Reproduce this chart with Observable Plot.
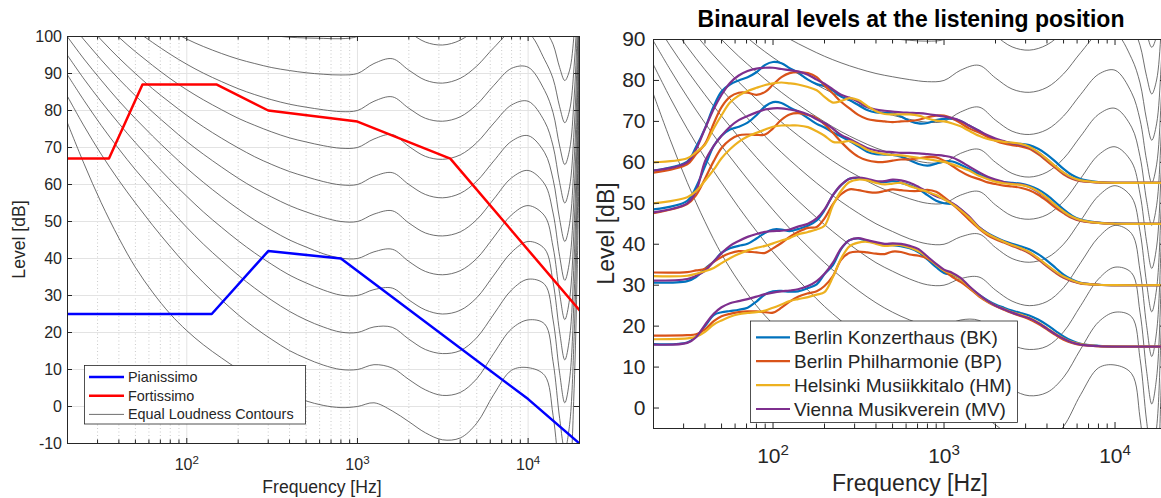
<!DOCTYPE html>
<html>
<head>
<meta charset="utf-8">
<script src="https://cdn.jsdelivr.net/npm/d3@7"></script>
<script src="https://cdn.jsdelivr.net/npm/@observablehq/plot@0.6"></script>
<style>
html, body { margin: 0; padding: 0; background: #fff; overflow: hidden; }
#wrap { position: relative; width: 1161px; height: 498px; overflow: hidden; background: #fff; }
#wrap > svg { position: absolute; top: 0; }
</style>
</head>
<body>
<div id="wrap"></div>
<script>
// ---------------- DATA ----------------
// Equal loudness contours, frequency grid in Hz
const isoFreq = [20,25,31.5,40,50,63,80,100,125,160,200,250,315,400,500,630,800,1000,1250,1600,2000,2500,3150,4000,5000,6300,8000,10000,12500,14000,15300,16400,17500,18600,19400,20000];
const phonLevels = [0,10,20,30,40,50,60,70,80,90,100];
const phon0   = [76.6,65.6,55.1,45.5,37.6,30.9,25.0,20.5,16.7,13.1,10.1,7.5,5.1,3.1,1.5,0.3,-0.3,0.0,1.0,-1.2,-4.1,-7.1,-9.0,-8.5,-4.5,3.3,9.8,10.5,8.4,-2.4,-18.6,-27.6,-20.4,4.8,37.2,73.2];
const phon10  = [83.8,75.8,68.2,61.1,55.0,49.0,43.2,38.1,33.5,28.8,24.8,21.3,18.1,15.1,13.0,11.2,10.0,10.0,11.3,10.4,7.3,4.5,3.0,3.8,7.5,14.4,21.0,23.4,22.3,12.1,-3.2,-11.7,-4.9,18.9,49.5,83.5];
const phon20  = [89.6,82.7,76.0,69.6,64.0,58.6,53.2,48.4,43.9,39.4,35.5,32.0,28.7,25.7,23.4,21.5,20.1,20.0,21.5,21.4,18.2,15.4,14.3,15.1,18.6,25.0,31.5,34.4,33.0,23.4,9.0,1.0,7.4,29.8,58.6,90.6];
const phon30  = [94.9,88.5,82.4,76.5,71.3,66.2,61.2,56.8,52.6,48.4,44.8,41.5,38.4,35.5,33.4,31.5,30.1,30.0,31.6,32.0,28.8,26.1,25.0,26.0,29.4,35.5,41.7,44.6,42.6,33.6,20.1,12.6,18.6,39.6,66.6,96.6];
const phon40  = [99.9,93.9,88.2,82.6,77.8,73.1,68.5,64.4,60.6,56.7,53.4,50.4,47.6,45.0,43.1,41.3,40.1,40.0,41.8,42.5,39.2,36.5,35.6,36.7,40.0,45.8,51.8,54.3,51.5,43.1,30.5,23.5,29.1,48.7,73.9,101.9];
const phon50  = [104.7,99.1,93.7,88.5,84.0,79.6,75.4,71.6,68.2,64.7,61.7,59.0,56.6,54.3,52.6,51.1,50.0,50.0,52.0,52.9,49.6,46.9,46.1,47.2,50.5,56.1,61.8,63.8,60.1,52.3,40.6,34.1,39.3,57.5,80.9,106.9];
const phon60  = [109.5,104.2,99.1,94.2,90.0,85.9,82.1,78.7,75.6,72.5,69.9,67.5,65.4,63.5,62.1,60.8,59.9,60.0,62.2,63.2,60.0,57.3,56.4,57.6,60.9,66.4,71.7,73.2,68.6,61.4,50.6,44.6,49.4,66.2,87.8,111.8];
const phon70  = [114.3,109.3,104.4,99.8,95.9,92.2,88.6,85.6,82.9,80.2,77.9,76.0,74.2,72.6,71.5,70.5,69.8,70.0,72.3,73.5,70.3,67.6,66.8,68.0,71.3,76.6,81.5,82.5,77.0,70.4,60.5,55.0,59.4,74.8,94.6,116.6];
const phon80  = [119.0,114.2,109.7,105.3,101.7,98.4,95.2,92.5,90.1,87.8,85.9,84.3,82.9,81.7,80.9,80.2,79.7,80.0,82.5,83.7,80.6,77.9,77.1,78.3,81.6,86.8,91.4,91.7,85.4,79.4,70.4,65.4,69.4,83.4,101.4,121.4];
const phon90  = [123.7,119.2,114.9,110.9,107.5,104.5,101.7,99.3,97.3,95.4,93.9,92.7,91.6,90.8,90.2,89.8,89.6,90.0,92.7,94.0,90.9,88.2,87.4,88.7,92.0,97.0,101.3,101.0,93.7,88.6,81.0,76.7,80.1,92.0,107.3,124.3];
const phon100 = [128.4,124.2,120.1,116.4,113.4,110.6,108.2,106.2,104.5,103.0,101.9,101.0,100.3,99.8,99.6,99.5,99.4,100.0,102.8,104.3,101.2,98.5,97.7,99.0,102.3,107.2,111.1,110.2,102.1,97.9,91.6,88.1,90.9,100.7,113.3,127.3];
const phonRows = [phon0,phon10,phon20,phon30,phon40,phon50,phon60,phon70,phon80,phon90,phon100];

// Left panel: dynamics
const ppFreq = [20,140,300,800,10000,20000];
const ppLevel = [25,25,42,40,2,-10];
const ffFreq = [20,35,55,150,300,1000,3500,20000];
const ffLevel = [67,67,87,87,80,77,67,26];

// Right panel: binaural levels per hall (4 dynamic levels each)
const hallFreq = [20,31.5,35.5,40,45,50,56,63,71,80,90,100,112,125,140,160,180,200,224,250,280,315,355,400,450,500,560,630,710,800,900,1000,1120,1250,1400,1600,1800,2000,2240,2500,2800,3150,3550,4000,4500,5000,5600,6300,8000,10000,20000];
const levelNames = ["ff","f","p","pp"];
const bkA = [58.0,60.2,63.8,68.3,73.7,77.3,79.0,80.0,80.8,82.0,83.8,84.5,84.2,83.0,81.9,80.2,79.1,78.6,77.5,76.1,75.2,74.0,72.8,72.2,72.1,72.0,71.2,70.1,69.5,69.6,70.3,70.6,70.6,70.1,69.0,67.7,66.3,65.5,65.0,64.7,64.5,64.2,63.3,61.9,60.1,58.4,56.9,55.9,55.2,55.0,55.0];
const bkB = [48.5,50.6,54.0,59.0,64.0,66.5,68.0,68.7,69.7,71.5,73.7,74.7,74.5,73.4,72.4,70.8,69.4,68.5,67.3,66.3,65.2,63.9,62.6,62.0,61.9,61.8,61.4,60.5,59.6,59.2,59.7,60.2,60.2,59.4,58.4,57.1,56.2,55.6,55.2,55.0,54.8,54.3,53.4,52.0,50.2,48.5,47.0,46.0,45.3,45.1,45.0];
const bkC = [30.6,31.0,32.0,34.0,35.8,37.9,39.0,39.6,40.1,41.4,42.8,43.6,43.6,43.2,43.7,44.5,45.8,48.3,52.0,54.4,56.0,56.2,55.8,55.2,55.2,55.4,55.0,54.4,53.5,52.0,50.6,50.0,49.8,48.5,46.5,44.2,42.7,41.7,40.8,40.1,39.5,38.8,37.6,36.0,34.2,32.6,31.4,30.6,30.1,30.0,30.0];
const bkD = [15.6,16.0,17.5,20.0,22.7,23.4,23.7,24.0,24.5,26.0,27.8,28.5,28.6,28.4,28.5,29.3,30.2,32.7,34.9,38.8,41.0,41.4,40.8,40.3,39.9,39.8,39.5,39.0,38.0,36.3,34.4,33.0,32.5,31.5,29.6,27.7,26.3,25.3,24.5,23.8,23.2,22.6,21.6,20.3,18.8,17.5,16.4,15.7,15.2,15.0,15.0];
const bpA = [57.5,59.5,62.0,64.5,69.5,73.5,76.0,77.0,77.0,76.5,77.2,79.0,80.8,81.8,82.0,81.8,80.8,78.8,76.8,74.8,73.2,71.6,70.6,70.2,70.0,69.8,70.0,70.1,70.4,71.0,71.4,71.4,70.7,69.6,68.3,67.3,66.2,65.3,64.6,64.2,63.9,63.3,62.0,60.3,58.6,57.1,56.0,55.4,55.1,55.0,55.0];
const bpB = [47.6,49.8,52.0,56.0,60.3,63.5,65.5,66.6,66.8,66.7,66.8,68.3,70.4,71.7,72.0,71.6,70.8,69.3,67.2,65.0,63.0,61.4,60.5,60.1,60.1,60.4,60.7,60.7,61.0,61.3,61.2,60.4,59.1,57.8,56.7,55.9,55.1,54.7,54.3,54.1,53.8,53.2,52.1,50.6,48.9,47.6,46.4,45.7,45.2,45.0,45.0];
const bpC = [33.1,33.2,33.6,34.0,35.7,36.9,37.8,38.3,38.2,38.0,37.9,39.0,40.3,41.8,43.0,44.0,44.2,46.3,49.8,52.2,53.4,53.2,52.8,52.6,53.0,53.4,53.2,53.0,53.0,53.3,52.8,51.5,49.8,48.0,46.0,43.8,42.2,41.2,40.4,39.6,38.8,37.8,36.3,34.6,33.0,31.8,31.0,30.4,30.1,30.0,30.0];
const bpD = [17.7,17.8,18.0,19.2,21.2,22.4,23.0,23.4,23.6,23.6,23.4,23.3,24.5,26.0,27.2,28.0,28.5,29.8,32.2,36.2,37.9,38.2,38.0,37.7,37.6,38.2,38.1,37.5,37.2,36.5,35.0,33.5,32.0,30.8,29.3,27.3,25.9,24.9,24.0,23.2,22.5,21.7,20.6,19.2,17.8,16.7,15.9,15.4,15.1,15.0,15.0];
const hmA = [60.0,61.0,62.5,64.3,68.3,71.5,74.6,76.3,77.4,78.2,78.9,79.3,79.5,79.3,79.0,78.4,77.6,76.0,74.6,75.0,75.7,75.2,73.8,72.5,71.8,71.7,71.7,71.7,71.4,70.7,70.2,70.0,69.5,68.8,67.7,66.5,65.7,65.3,65.0,64.8,64.5,63.8,62.5,60.8,59.0,57.5,56.3,55.6,55.1,55.0,55.0];
const hmB = [50.0,51.5,53.0,55.5,58.2,61.0,63.2,65.0,66.3,67.2,68.0,68.7,69.0,69.0,69.0,68.6,67.6,66.5,65.0,64.9,65.2,64.3,63.1,62.4,62.0,61.8,61.7,61.4,61.1,60.8,60.4,60.1,59.5,58.8,58.0,56.7,55.9,55.3,54.9,54.7,54.5,54.0,52.9,51.3,49.5,48.0,46.7,45.9,45.2,45.0,45.0];
const hmC = [32.2,32.3,32.8,33.4,34.2,35.4,36.6,37.6,38.5,39.1,39.6,40.2,40.9,41.5,42.4,43.0,43.6,44.5,49.5,53.0,55.2,55.8,55.6,55.0,54.6,54.8,55.0,54.2,53.5,52.8,52.0,51.0,49.8,48.3,46.5,44.0,42.5,41.5,40.6,39.8,39.1,38.1,36.6,34.9,33.3,32.1,31.2,30.5,30.1,30.0,30.0];
const hmD = [16.8,17.0,17.4,18.6,20.4,21.4,22.3,22.9,23.2,23.4,23.8,24.5,25.3,26.1,26.6,27.1,27.7,28.3,32.0,36.5,39.5,40.4,40.6,40.1,39.6,39.7,39.8,39.2,38.3,36.8,35.0,33.6,32.7,31.5,29.6,27.5,26.0,25.0,24.2,23.4,22.8,22.0,20.9,19.5,18.1,17.0,16.1,15.6,15.1,15.0,15.0];
const mvA = [58.0,60.0,63.2,68.2,73.0,76.5,79.4,81.2,82.3,82.9,83.1,83.1,82.8,82.5,82.2,81.4,80.2,79.2,77.8,76.5,75.8,74.8,73.5,72.9,72.6,72.4,72.2,72.1,72.0,71.8,71.5,71.2,70.8,70.1,69.0,67.7,66.6,65.8,65.2,64.6,64.3,63.7,62.4,60.7,58.9,57.4,56.2,55.5,55.1,55.0,55.0];
const mvB = [47.8,50.0,53.0,60.2,64.0,66.5,68.7,70.3,71.3,72.2,72.9,73.2,73.2,72.9,72.5,71.7,70.5,69.6,68.2,66.7,65.7,64.6,63.5,62.9,62.6,62.5,62.3,62.3,62.2,62.0,61.8,61.6,61.2,60.2,59.0,57.6,56.5,55.8,55.2,54.8,54.6,54.0,52.8,51.2,49.4,47.9,46.6,45.8,45.2,45.0,45.0];
const mvC = [31.1,31.5,32.3,33.5,35.8,37.8,39.6,40.8,41.8,42.5,43.0,43.2,43.3,43.6,44.3,45.0,46.3,48.5,52.0,54.5,56.0,56.3,56.0,55.4,55.4,55.8,55.6,55.0,54.0,52.8,51.7,51.0,50.0,48.6,46.8,44.2,42.6,41.5,40.6,39.8,39.0,38.0,36.5,34.8,33.2,32.0,31.1,30.5,30.1,30.0,30.0];
const mvD = [15.5,15.9,17.3,20.3,23.0,24.6,25.6,26.1,26.6,27.2,27.8,28.2,28.5,28.7,29.0,29.8,31.0,32.8,35.5,39.0,41.0,41.5,41.0,40.5,40.1,40.2,40.1,39.6,38.8,37.0,35.2,33.8,33.0,31.8,29.8,27.7,26.1,25.0,24.1,23.3,22.6,21.9,20.8,19.4,18.0,16.9,16.0,15.5,15.1,15.0,15.0];

const hallKeys = ["BK","BP","HM","MV"];
const hallNames = ["Berlin Konzerthaus (BK)","Berlin Philharmonie (BP)","Helsinki Musiikkitalo (HM)","Vienna Musikverein (MV)"];
const hallColors = ["#0072BD","#D95319","#EDB120","#7E2F8E"];
const hallSeries = {BK: [bkA,bkB,bkC,bkD], BP: [bpA,bpB,bpC,bpD], HM: [hmA,hmB,hmC,hmD], MV: [mvA,mvB,mvC,mvD]};

// Axes / text
const xMajor = [100, 1000, 10000];
const xMinorMult = [2,3,4,5,6,7,8,9];
const yTicksLeft = [-10,0,10,20,30,40,50,60,70,80,90,100];
const yTicksRight = [0,10,20,30,40,50,60,70,80,90];
const leftLegend = ["Pianissimo","Fortissimo","Equal Loudness Contours"];
const titleText = "Binaural levels at the listening position";
const xLabel = "Frequency [Hz]";
const yLabel = "Level [dB]";

// ---------------- BUILD ----------------
const FONT = '"Liberation Sans", Arial, Helvetica, sans-serif';
const AX = "#262626";
const wrap = document.getElementById("wrap");

const minorAll = [];
[10,100,1000,10000].forEach(d => xMinorMult.forEach(m => minorAll.push(m * d)));

const contourRows = [];
phonLevels.forEach((p, k) => isoFreq.forEach((f, i) => contourRows.push({phon: p, f, L: phonRows[k][i]})));
const contourMark = () => Plot.line(contourRows, {x: "f", y: "L", z: "phon", stroke: "#4a4a4a", strokeWidth: 0.8, curve: "catmull-rom", clip: true});

function makePanel(o) {
  const pw = o.width - o.ml - o.mr, ph = o.height - o.mt - o.mb;
  const [xlo, xhi] = o.xdom, [ylo, yhi] = o.ydom;
  const dec = Math.log10(xhi / xlo);
  const xFromLeft = px => xlo * Math.pow(10, px * dec / pw);
  const xFromRight = px => xhi / Math.pow(10, px * dec / pw);
  const dv = px => px * (yhi - ylo) / ph;
  const inner = v => v > xlo * 1.001 && v < xhi / 1.001;
  const minor = minorAll.filter(inner), major = xMajor.filter(inner);
  const yt = o.yticks;
  const marks = [];
  if (o.grid) {
    marks.push(Plot.ruleX(minor, {x: d => d, stroke: "#bdbdbd", strokeWidth: 0.8, strokeDasharray: "1,2.5"}));
    marks.push(Plot.ruleX(major, {x: d => d, stroke: "#e3e3e3", strokeWidth: 1}));
    marks.push(Plot.ruleY(yt.filter(v => v > ylo && v < yhi), {y: d => d, stroke: "#e3e3e3", strokeWidth: 1}));
  }
  marks.push(...o.marks);
  marks.push(Plot.frame({stroke: AX, strokeWidth: 1}));
  const tk = {stroke: AX, strokeWidth: 1};
  marks.push(Plot.ruleY(yt, {y: d => d, x1: () => xlo, x2: () => xFromLeft(o.tick), ...tk}));
  marks.push(Plot.ruleY(yt, {y: d => d, x1: () => xFromRight(o.tick), x2: () => xhi, ...tk}));
  marks.push(Plot.ruleX(major, {x: d => d, y1: () => ylo, y2: () => ylo + dv(o.tick), ...tk}));
  marks.push(Plot.ruleX(major, {x: d => d, y1: () => yhi - dv(o.tick), y2: () => yhi, ...tk}));
  marks.push(Plot.ruleX(minor, {x: d => d, y1: () => ylo, y2: () => ylo + dv(o.tickMinor), ...tk}));
  marks.push(Plot.ruleX(minor, {x: d => d, y1: () => yhi - dv(o.tickMinor), y2: () => yhi, ...tk}));
  marks.push(Plot.axisY({ticks: yt, tickSize: 0, tickPadding: o.ypad, fontSize: o.fs, tickFormat: d => String(d), label: null}));
  marks.push(Plot.axisX({ticks: major, tickSize: 0, tickPadding: o.xpad, fontSize: o.fs, tickFormat: d => String(Math.round(Math.log10(d))), label: null}));
  const svg = Plot.plot({
    width: o.width, height: o.height,
    marginLeft: o.ml, marginRight: o.mr, marginTop: o.mt, marginBottom: o.mb,
    x: {type: "log", domain: o.xdom},
    y: {domain: o.ydom},
    style: {fontFamily: FONT, color: AX, background: "transparent", overflow: "visible", maxWidth: "none"},
    marks
  });
  d3.select(svg).selectAll('g[aria-label="x-axis tick label"] text').each(function() {
    const e = this.textContent;
    const t = d3.select(this);
    t.text(null);
    t.append("tspan").text("10");
    t.append("tspan").attr("dy", "-0.5em").attr("font-size", "72%").text(e);
  });
  svg.style.left = o.left + "px";
  wrap.appendChild(svg);
  return svg;
}

// Left panel
const ppRows = ppFreq.map((f, i) => ({f, L: ppLevel[i]}));
const ffRows = ffFreq.map((f, i) => ({f, L: ffLevel[i]}));
makePanel({
  left: 0, width: 590, height: 498, ml: 67, mr: 11, mt: 36, mb: 55,
  xdom: [20, 20000], ydom: [-10, 100], yticks: yTicksLeft, grid: true,
  fs: 16, ypad: 5.5, xpad: 15, tick: 5, tickMinor: 3.5,
  marks: [
    contourMark(),
    Plot.line(ppRows, {x: "f", y: "L", stroke: "#0000FF", strokeWidth: 2.5, clip: true}),
    Plot.line(ffRows, {x: "f", y: "L", stroke: "#FF0000", strokeWidth: 2.5, clip: true})
  ]
});

// Right panel
const hallRows = [];
hallKeys.forEach(h => hallSeries[h].forEach((arr, li) => arr.forEach((L, i) => hallRows.push({hall: h, level: levelNames[li], f: hallFreq[i], L}))));
const hallMarks = [];
levelNames.forEach((lv, li) => {
  const order = li < 3 ? ["BK","BP","MV","HM"] : ["BK","BP","HM","MV"];
  order.forEach(h => {
    hallMarks.push(Plot.line(hallRows.filter(r => r.hall === h && r.level === lv),
      {x: "f", y: "L", stroke: hallColors[hallKeys.indexOf(h)], strokeWidth: 2.2, curve: "catmull-rom", strokeLinejoin: "round", clip: true}));
  });
});
makePanel({
  left: 590, width: 576, height: 498, ml: 63, mr: 0, mt: 39, mb: 70,
  xdom: [20, 20000], ydom: [-5, 90], yticks: yTicksRight, grid: false,
  fs: 21, ypad: 8, xpad: 19.5, tick: 6, tickMinor: 4.5,
  marks: [contourMark(), ...hallMarks]
});

// Overlay: titles, axis labels, legends
const ov = d3.select(wrap).append("svg")
  .attr("width", 1161).attr("height", 498)
  .style("left", "0px").style("font-family", FONT);
function label(x, y, s, size, rot, opts = {}) {
  const t = ov.append("text")
    .attr("transform", `translate(${x},${y})` + (rot ? " rotate(-90)" : ""))
    .attr("text-anchor", opts.anchor || "middle")
    .attr("dy", opts.dy || "0.35em")
    .attr("font-size", size)
    .attr("fill", opts.fill || AX)
    .text(s);
  if (opts.bold) t.attr("font-weight", "bold");
  return t;
}
label(911, 26.5, titleText, 23, false, {bold: true, dy: "0", fill: "#000"});
label(19, 239.5, yLabel, 17.6, true);
label(322, 487, xLabel, 17.6, false);
label(606, 233.5, yLabel, 23, true);
label(910, 483, xLabel, 23, false);

// left legend
const lg = ov.append("g");
lg.append("rect").attr("x", 84.5).attr("y", 365.5).attr("width", 221).attr("height", 58.5)
  .attr("fill", "#fff").attr("stroke", AX).attr("stroke-width", 0.8);
const leftStyles = [{c: "#0000FF", w: 2.5}, {c: "#FF0000", w: 2.5}, {c: "#4a4a4a", w: 0.8}];
leftLegend.forEach((s, i) => {
  const y = 377 + i * 18.7;
  lg.append("line").attr("x1", 89).attr("x2", 124).attr("y1", y).attr("y2", y)
    .attr("stroke", leftStyles[i].c).attr("stroke-width", leftStyles[i].w);
  lg.append("text").attr("x", 128).attr("y", y).attr("dy", "0.35em").attr("font-size", 14.4).attr("fill", AX).text(s);
});
// right legend
const rg = ov.append("g");
rg.append("rect").attr("x", 750.5).attr("y", 321).attr("width", 267).attr("height", 101.5)
  .attr("fill", "#fff").attr("stroke", AX).attr("stroke-width", 0.8);
hallNames.forEach((s, i) => {
  const y = 337.3 + i * 23.9;
  rg.append("line").attr("x1", 756).attr("x2", 790).attr("y1", y).attr("y2", y)
    .attr("stroke", hallColors[i]).attr("stroke-width", 2.2);
  rg.append("text").attr("x", 794).attr("y", y).attr("dy", "0.35em").attr("font-size", 19).attr("fill", AX).text(s);
});
</script>
</body>
</html>
